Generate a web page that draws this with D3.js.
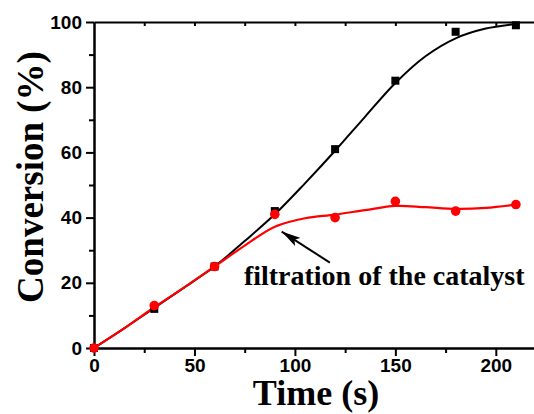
<!DOCTYPE html>
<html>
<head>
<meta charset="utf-8">
<script src="https://cdn.jsdelivr.net/npm/d3@7"></script>
<style>
  body { margin: 0; background: #fff; }
  .tick text { font-family: "Liberation Sans", Arial, sans-serif; font-weight: bold; font-size: 19px; fill: #000; }
  .title { font-family: "Liberation Serif", "Times New Roman", serif; font-weight: bold; fill: #000; }
</style>
</head>
<body>
<div id="chart"></div>
<script>
  // measured points
  const times = [0, 30, 60, 90, 120, 150, 180, 210];
  const withCatalyst = [0, 12, 25, 42, 61, 82, 97, 99];
  const afterFiltration = [0, 13, 25, 41, 40, 45, 42, 44];

  // fitted curves
  const fitTimes = [0, 15, 30, 45, 60, 75, 90, 105, 120, 135, 150, 165, 180, 195, 210];
  const fitCatalyst = [0, 6, 12.3, 18.6, 25, 32.8, 41, 50.5, 60.5, 71, 81.3, 89.5, 95, 98, 99.4];
  const fitFiltration = [0, 6, 12.5, 18.6, 25, 31.4, 37.2, 39.8, 40.9, 42.3, 43.6, 43.2, 42.7, 43, 44];

  const xTicks = [0, 50, 100, 150, 200];
  const yTicks = [0, 20, 40, 60, 80, 100];

  const W = 534, H = 414;
  const margin = { top: 22, right: -2, bottom: 66, left: 94 };

  const x = d3.scaleLinear().domain([0, 220]).range([margin.left, W - margin.right]);
  const y = d3.scaleLinear().domain([0, 100]).range([H - margin.bottom, margin.top]);

  const svg = d3.select('#chart').append('svg')
    .attr('width', W).attr('height', H);

  // minor ticks
  const minorX = d3.range(25, 220, 50);
  const minorY = d3.range(10, 100, 20);

  const styleAxis = g => {
    g.selectAll('.domain').attr('stroke', '#000').attr('stroke-width', 2);
    g.selectAll('.tick line').attr('stroke', '#000').attr('stroke-width', 2);
  };

  svg.append('g')
    .attr('transform', `translate(0,${y(0)})`)
    .call(d3.axisBottom(x).tickValues(xTicks).tickSize(8).tickPadding(3).tickSizeOuter(0))
    .call(styleAxis);
  svg.append('g')
    .attr('transform', `translate(0,${y(0)})`)
    .call(d3.axisBottom(x).tickValues(minorX).tickSize(5).tickFormat('').tickSizeOuter(0))
    .call(styleAxis);

  svg.append('g')
    .attr('transform', `translate(${x(0)},0)`)
    .call(d3.axisLeft(y).tickValues(yTicks).tickSize(8).tickPadding(4).tickSizeOuter(0))
    .call(styleAxis);
  svg.append('g')
    .attr('transform', `translate(${x(0)},0)`)
    .call(d3.axisLeft(y).tickValues(minorY).tickSize(5).tickFormat('').tickSizeOuter(0))
    .call(styleAxis);

  // top frame with small inward ticks
  svg.append('g')
    .attr('transform', `translate(0,${y(100)})`)
    .call(d3.axisTop(x).tickValues(d3.range(25, 220, 25)).tickSize(-4).tickFormat('').tickSizeOuter(0))
    .call(styleAxis);

  const line = d3.line().curve(d3.curveCatmullRom.alpha(0.5))
    .x(d => x(d[0])).y(d => y(d[1]));

  svg.append('path')
    .attr('d', line(d3.zip(fitTimes, fitCatalyst)))
    .attr('fill', 'none').attr('stroke', '#000').attr('stroke-width', 2);

  svg.append('path')
    .attr('d', line(d3.zip(fitTimes, fitFiltration)))
    .attr('fill', 'none').attr('stroke', '#f00').attr('stroke-width', 2.2);

  svg.append('g').selectAll('rect')
    .data(d3.zip(times, withCatalyst))
    .join('rect')
    .attr('x', d => x(d[0]) - 4).attr('y', d => y(d[1]) - 4)
    .attr('width', 8).attr('height', 8)
    .attr('fill', '#000');

  svg.append('g').selectAll('circle')
    .data(d3.zip(times, afterFiltration))
    .join('circle')
    .attr('cx', d => x(d[0])).attr('cy', d => y(d[1]))
    .attr('r', 4.8)
    .attr('fill', '#f00');

  // annotation arrow
  const tail = [117.4, 26.2], tip = [93.4, 35.7];
  svg.append('defs').append('marker')
    .attr('id', 'head')
    .attr('viewBox', '0 0 20 10')
    .attr('refX', 20).attr('refY', 5)
    .attr('markerWidth', 19).attr('markerHeight', 10)
    .attr('markerUnits', 'userSpaceOnUse')
    .attr('orient', 'auto')
    .append('path').attr('d', 'M0,0L20,5L0,10L4,5Z').attr('fill', '#000');

  svg.append('line')
    .attr('x1', x(tail[0])).attr('y1', y(tail[1]))
    .attr('x2', x(tip[0])).attr('y2', y(tip[1]))
    .attr('stroke', '#000').attr('stroke-width', 2)
    .attr('marker-end', 'url(#head)');

  svg.append('text')
    .attr('class', 'title')
    .attr('x', x(74.6)).attr('y', y(19.3))
    .attr('font-size', 28)
    .text('filtration of the catalyst');

  // axis titles
  svg.append('text')
    .attr('class', 'title')
    .attr('x', 316).attr('y', 405)
    .attr('text-anchor', 'middle')
    .attr('font-size', 36)
    .text('Time (s)');

  svg.append('text')
    .attr('class', 'title')
    .attr('transform', 'translate(43,177) rotate(-90)')
    .attr('text-anchor', 'middle')
    .attr('font-size', 37)
    .text('Conversion (%)');
</script>
</body>
</html>
